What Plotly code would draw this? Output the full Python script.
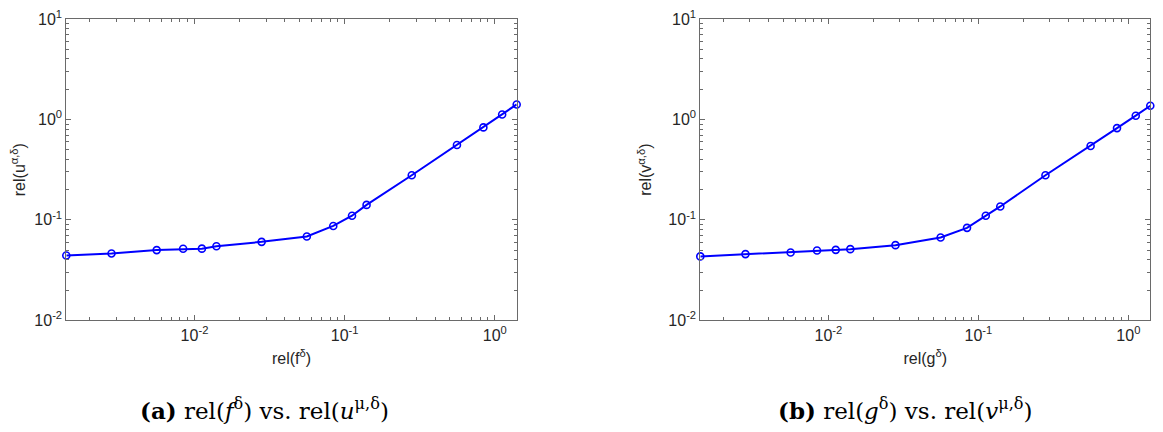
import plotly.graph_objects as go

# noise levels rel(f^delta) / rel(g^delta), same for both panels
rel_noise = [0.0014, 0.0028, 0.0056, 0.0084, 0.0112, 0.014, 0.028, 0.056,
             0.084, 0.112, 0.14, 0.28, 0.56, 0.84, 1.12, 1.4]

# rel(u^{alpha,delta}) -- panel (a)
rel_u = [0.0442, 0.0463, 0.0500, 0.0515, 0.0517, 0.0547, 0.0604, 0.0683,
         0.0870, 0.110, 0.141, 0.278, 0.556, 0.833, 1.12, 1.41]

# rel(v^{alpha,delta}) -- panel (b)
rel_v = [0.0433, 0.0456, 0.0473, 0.0496, 0.0503, 0.0511, 0.0560, 0.0668,
         0.0833, 0.110, 0.136, 0.278, 0.543, 0.820, 1.09, 1.37]

x_tickvals = [0.01, 0.1, 1]
x_ticktext = ['10<sup>-2</sup>', '10<sup>-1</sup>', '10<sup>0</sup>']
y_tickvals = [0.01, 0.1, 1, 10]
y_ticktext = ['10<sup>-2</sup>', '10<sup>-1</sup>', '10<sup>0</sup>', '10<sup>1</sup>']

captions = ['<b>(a)</b> rel(<i>f</i><sup>δ</sup>) vs. rel(<i>u</i><sup>μ,δ</sup>)',
            '<b>(b)</b> rel(<i>g</i><sup>δ</sup>) vs. rel(<i>v</i><sup>μ,δ</sup>)']
x_titles = ['rel(f<sup>δ</sup>)', 'rel(g<sup>δ</sup>)']
y_titles = ['rel(u<sup>α,δ</sup>)', 'rel(v<sup>α,δ</sup>)']

W, H = 1163, 432
OFF = 8  # the page body margin shifts the figure by this much
line_col = '#6a6a6a'
text_col = '#262626'
blue = '#0000ff'

# minor tick positions 2..9 x 10^k
minor_vals = [m * 10.0 ** k for k in range(-3, 1) for m in range(2, 10)]

fig = go.Figure()
for i, ys in enumerate([rel_u, rel_v]):
    sfx = '' if i == 0 else '2'
    fig.add_trace(go.Scatter(x=rel_noise, y=ys, mode='lines+markers',
                             line=dict(color=blue, width=2),
                             marker=dict(symbol='circle-open', size=7, color=blue,
                                         line=dict(width=1.6, color=blue)),
                             cliponaxis=False,
                             xaxis='x' + sfx, yaxis='y' + sfx, showlegend=False))

x_domains = [[(66.3 - OFF) / W, (516.7 - OFF) / W], [(700.3 - OFF) / W, (1150.3 - OFF) / W]]
y_domain = [1 - (320.3 - OFF) / H, 1 - (19.0 - OFF) / H]

font_ax = dict(family='Liberation Sans, Arial', size=16, color=text_col)
axis_common = dict(type='log', showline=True, linecolor=line_col, linewidth=1,
                   mirror='allticks', ticks='inside', ticklen=5, tickcolor=line_col,
                   showgrid=False, zeroline=False, tickfont=font_ax, automargin=False,
                   ticklabeloverflow='allow',
                   minor=dict(ticks='inside', ticklen=3, tickcolor=line_col,
                              tickmode='array', tickvals=minor_vals, showgrid=False))

layout = dict(width=W, height=H, plot_bgcolor='white', paper_bgcolor='white',
              margin=dict(l=0, r=0, t=0, b=0, autoexpand=False))
for i in range(2):
    sfx = '' if i == 0 else '2'
    xa = dict(axis_common, domain=x_domains[i], anchor='y' + sfx,
              range=[-2.8539, 0.1462], tickmode='array',
              tickvals=x_tickvals, ticktext=x_ticktext,
              title=dict(text=x_titles[i], standoff=10, font=font_ax))
    ya = dict(axis_common, domain=y_domain, anchor='x' + sfx,
              range=[-2, 1.0001], tickmode='array',
              tickvals=y_tickvals, ticktext=y_ticktext,
              title=dict(text=y_titles[i], standoff=12, font=font_ax))
    layout['xaxis' + sfx] = xa
    layout['yaxis' + sfx] = ya

fig.update_layout(**layout)

cap_x = [(264 - OFF) / W, (905 - OFF) / W]
for i in range(2):
    fig.add_annotation(text=captions[i], xref='paper', yref='paper',
                       x=cap_x[i], y=1 - (409 - OFF) / H, xanchor='center', yanchor='middle',
                       showarrow=False,
                       font=dict(family='DejaVu Serif, serif', size=23, color='black'))

fig.write_html("out.html")
